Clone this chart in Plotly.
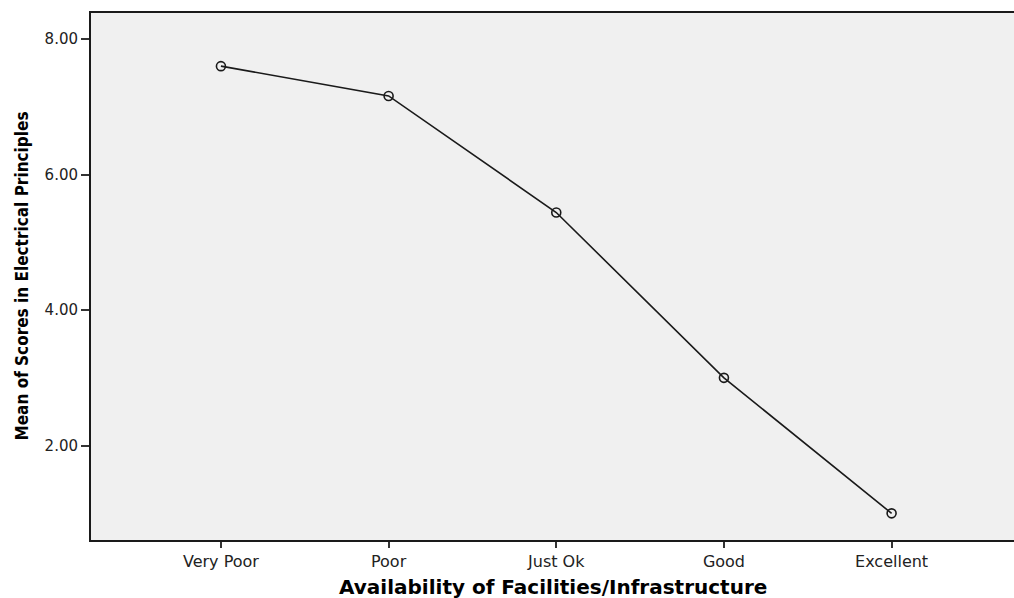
import plotly.graph_objects as go

categories = ["Very Poor", "Poor", "Just Ok", "Good", "Excellent"]
mean_scores = [7.60, 7.16, 5.44, 3.00, 1.00]
y_tick_values = [2, 4, 6, 8]
y_tick_labels = ["2.00", "4.00", "6.00", "8.00"]

fig = go.Figure()
fig.add_trace(go.Scatter(
    x=list(range(len(categories))),
    y=mean_scores,
    mode="lines+markers",
    line=dict(color="#1a1a1a", width=1.6),
    marker=dict(symbol="circle-open", size=9, color="#1a1a1a", line=dict(width=1.6)),
    showlegend=False,
    hoverinfo="skip",
))

fig.update_layout(
    width=1014, height=598,
    margin=dict(l=91, r=0, t=13, b=58),
    paper_bgcolor="white",
    plot_bgcolor="#f0f0f0",
    xaxis=dict(
        range=[-0.775, 4.73],
        tickmode="array",
        tickvals=list(range(len(categories))),
        ticktext=categories,
        showgrid=False, zeroline=False,
        showline=True, linecolor="#1a1a1a", linewidth=2, mirror=True,
        ticks="outside", ticklen=6, tickwidth=2, tickcolor="#333333",
        tickfont=dict(family="DejaVu Sans", size=16, color="#222222"),
    ),
    yaxis=dict(
        range=[0.607, 8.384],
        tickmode="array",
        tickvals=y_tick_values,
        ticktext=y_tick_labels,
        showgrid=False, zeroline=False,
        showline=True, linecolor="#1a1a1a", linewidth=2, mirror=False,
        ticks="outside", ticklen=8, tickwidth=1.5, tickcolor="#333333",
        tickfont=dict(family="DejaVu Sans", size=15, color="#222222"),
    ),
    annotations=[
        dict(text="<b>Availability of Facilities/Infrastructure</b>",
             xref="paper", yref="paper", x=0.5, y=0, xanchor="center", yanchor="middle",
             yshift=-47, showarrow=False,
             font=dict(family="DejaVu Sans", size=20, color="black")),
        dict(text="<b>Mean of Scores in Electrical Principles</b>",
             xref="paper", yref="paper", x=0, y=0.5, xanchor="center", yanchor="middle",
             xshift=-70, textangle=-90, showarrow=False,
             font=dict(family="Liberation Sans Narrow, DejaVu Sans Condensed", size=17, color="black")),
    ],
)

fig.write_html(
    "out.html",
    config={"displayModeBar": False},
    post_script="document.body.style.margin='0';document.body.style.overflow='hidden';",
)
